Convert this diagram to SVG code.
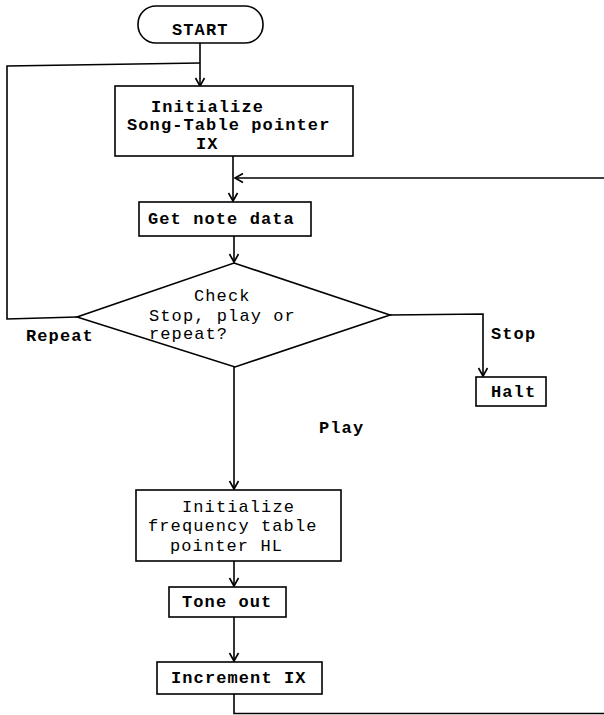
<svg xmlns="http://www.w3.org/2000/svg" width="604" height="715" viewBox="0 0 604 715">
<style>
.box{fill:#fff;stroke:#000;stroke-width:1.6}
.ln{fill:none;stroke:#000;stroke-width:1.6}
.t{font-family:"Liberation Mono","Courier New",monospace;font-size:17px;letter-spacing:1.1px;fill:#000}
.b{font-weight:bold}
</style>
<defs>
<marker id="arr" viewBox="-10 -6 12 12" refX="0" refY="0" markerWidth="12" markerHeight="12" markerUnits="userSpaceOnUse" orient="auto">
<path d="M-8,-4.5 L0,0 L-8,4.5" fill="none" stroke="#000" stroke-width="1.6"/>
</marker>
</defs>
<rect width="604" height="715" fill="#fff"/>
<g id="connectors">
<path class="ln" d="M200,43 V86" marker-end="url(#arr)"/>
<path class="ln" d="M77,317 L7,319 L7,66 L200,63"/>
<path class="ln" d="M233,156 V201" marker-end="url(#arr)"/>
<path class="ln" d="M604,178 H235" marker-end="url(#arr)"/>
<path class="ln" d="M234,236 V262" marker-end="url(#arr)"/>
<path class="ln" d="M390,315 L483,314 V376" marker-end="url(#arr)"/>
<path class="ln" d="M234,367 V489" marker-end="url(#arr)"/>
<path class="ln" d="M234,561 V586" marker-end="url(#arr)"/>
<path class="ln" d="M234,617 V661" marker-end="url(#arr)"/>
<path class="ln" d="M234,694 V713.5 H604"/>
<text class="t b" x="26" y="341">Repeat</text>
<text class="t b" x="491" y="339">Stop</text>
<text class="t b" x="319" y="433">Play</text>
</g>
<g id="start">
<rect class="box" x="138" y="6" width="125" height="37" rx="18" ry="18"/>
<text class="t b" x="172" y="35">START</text>
</g>
<g id="init-song">
<rect class="box" x="115" y="86" width="238" height="70"/>
<text class="t b" x="151" y="112">Initialize</text>
<text class="t b" x="127" y="130">Song-Table pointer</text>
<text class="t b" x="196" y="149">IX</text>
</g>
<g id="get-note">
<rect class="box" x="139" y="202" width="172" height="34"/>
<text class="t b" x="148" y="224">Get note data</text>
</g>
<g id="check">
<polygon class="box" points="234,263 390,315 235,367 77,317"/>
<text class="t" x="194" y="301">Check</text>
<text class="t" x="149" y="321">Stop, play or</text>
<text class="t" x="149" y="339">repeat?</text>
</g>
<g id="halt">
<rect class="box" x="476" y="377" width="70" height="29"/>
<text class="t b" x="491" y="397">Halt</text>
</g>
<g id="init-freq">
<rect class="box" x="136" y="490" width="205" height="71"/>
<text class="t" x="182" y="512">Initialize</text>
<text class="t" x="148" y="531">frequency table</text>
<text class="t" x="170" y="551">pointer HL</text>
</g>
<g id="tone-out">
<rect class="box" x="169" y="587" width="117" height="30"/>
<text class="t b" x="182" y="607">Tone out</text>
</g>
<g id="increment">
<rect class="box" x="157" y="662" width="165" height="32"/>
<text class="t b" x="171" y="683">Increment IX</text>
</g>
</svg>
